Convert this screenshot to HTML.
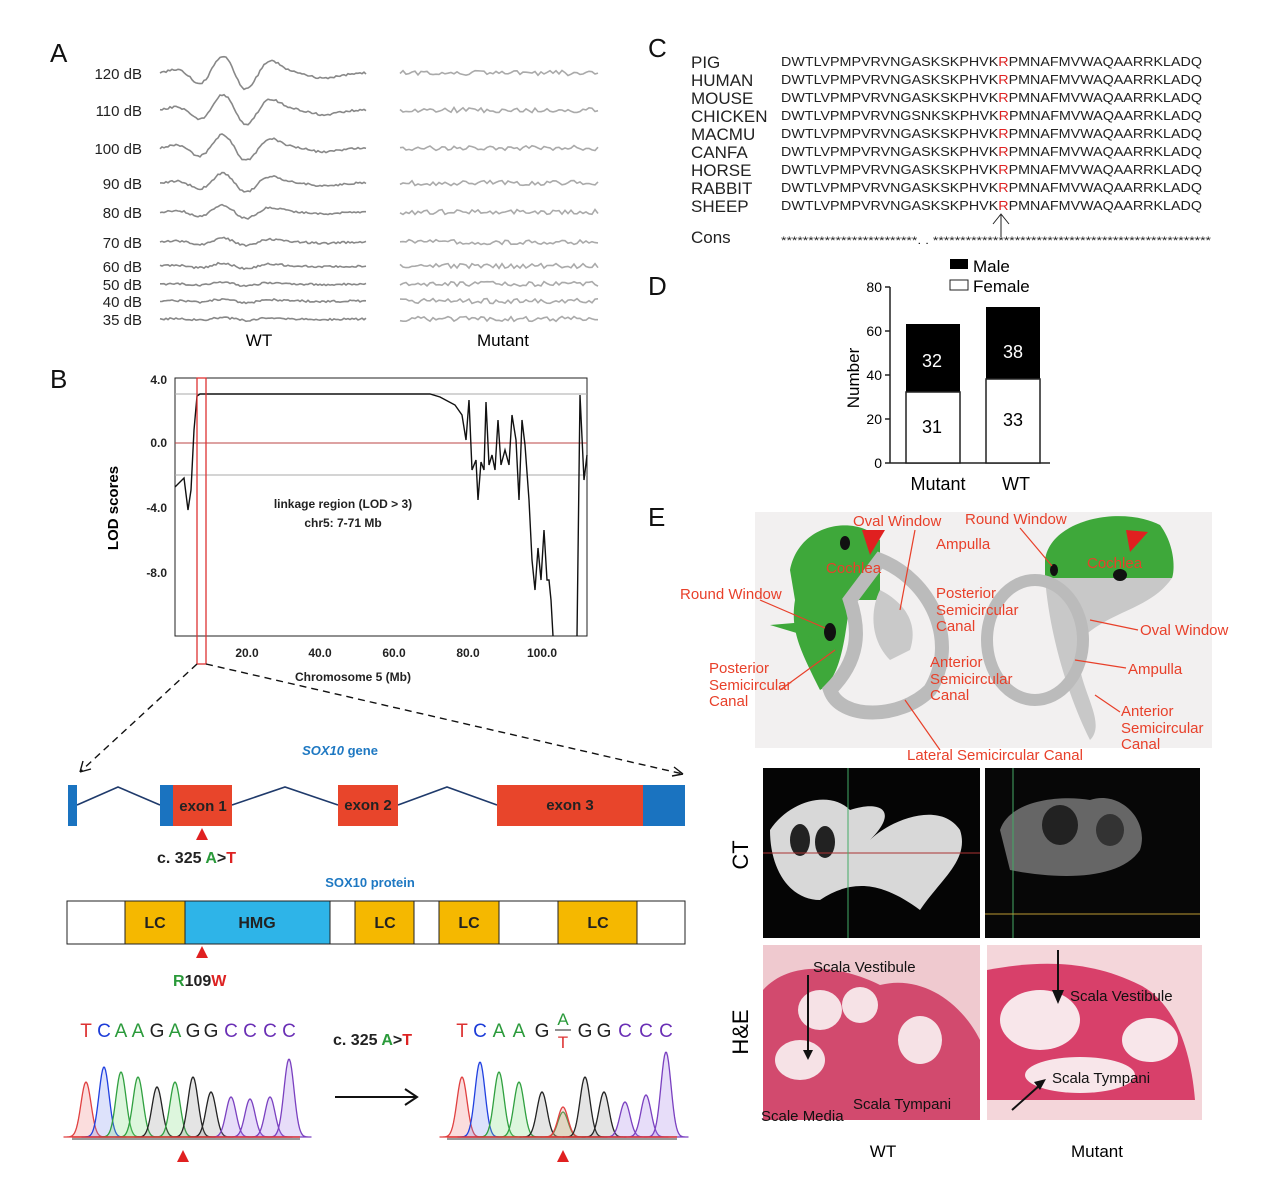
<!DOCTYPE html>
<html><head><meta charset="utf-8"><style>
html,body{margin:0;padding:0;background:#fff}
svg{display:block;font-family:"Liberation Sans",Arial,sans-serif}
</style></head><body>
<svg id="s" width="1269" height="1202" viewBox="0 0 1269 1202" xmlns="http://www.w3.org/2000/svg">
<rect width="1269" height="1202" fill="#fff"/>
<g font-size="26" fill="#111">
<text x="50" y="62">A</text><text x="50" y="388">B</text><text x="648" y="57">C</text>
<text x="648" y="295">D</text><text x="648" y="526">E</text></g>
<g font-size="15" fill="#222" text-anchor="end">
<text x="142" y="79">120 dB</text><text x="142" y="116">110 dB</text><text x="142" y="154">100 dB</text>
<text x="142" y="189">90 dB</text><text x="142" y="218">80 dB</text><text x="142" y="248">70 dB</text>
<text x="142" y="272">60 dB</text><text x="142" y="290">50 dB</text><text x="142" y="307">40 dB</text>
<text x="142" y="325">35 dB</text></g>
<text x="259" y="346" font-size="17" text-anchor="middle">WT</text>
<text x="503" y="346" font-size="17" text-anchor="middle">Mutant</text>
<g id="waves" fill="none" stroke="#888" stroke-width="1.6"></g>

<rect x="175" y="378" width="412" height="258" fill="none" stroke="#222" stroke-width="1"/>
<line x1="175" y1="394" x2="587" y2="394" stroke="#aaa"/>
<line x1="175" y1="475" x2="587" y2="475" stroke="#aaa"/>
<line x1="175" y1="443" x2="587" y2="443" stroke="#b44" stroke-width="1"/>
<g font-size="12" font-weight="bold" fill="#222" text-anchor="end">
<text x="167" y="384">4.0</text><text x="167" y="447">0.0</text><text x="167" y="512">-4.0</text><text x="167" y="577">-8.0</text></g>
<g font-size="12" font-weight="bold" fill="#222" text-anchor="middle">
<text x="247" y="657">20.0</text><text x="320" y="657">40.0</text><text x="394" y="657">60.0</text><text x="468" y="657">80.0</text><text x="542" y="657">100.0</text>
<text x="353" y="681">Chromosome 5 (Mb)</text>
<text x="343" y="508">linkage region (LOD &gt; 3)</text><text x="343" y="527">chr5: 7-71 Mb</text></g>
<text transform="translate(118,508) rotate(-90)" font-size="15" font-weight="bold" text-anchor="middle">LOD  scores</text>
<path d="M175 487 L180 482 L184 478 L188 510 L191 490 L194 430 L197 396 L200 394 L430 394 L440 397 L455 405 L462 415 L466 440 L469 400 L472 470 L476 460 L478 500 L481 462 L484 470 L486 402 L489 465 L492 455 L495 470 L498 420 L501 465 L505 450 L509 465 L512 415 L516 440 L519 500 L522 420 L525 445 L529 500 L532 560 L535 590 L538 548 L541 580 L544 530 L547 580 L549 580 L551 600 L553 636 M577 636 L580 395 L584 480 L587 455" fill="none" stroke="#111" stroke-width="1.4"/>
<rect x="197" y="378" width="9" height="286" fill="none" stroke="#d33" stroke-width="1.3"/>
<line x1="197" y1="664" x2="80" y2="772" stroke="#111" stroke-width="1.4" stroke-dasharray="7,5"/>
<path d="M80 772 l3 -11 M80 772 l11 -3" stroke="#111" stroke-width="1.4" fill="none"/>
<line x1="206" y1="664" x2="683" y2="774" stroke="#111" stroke-width="1.4" stroke-dasharray="7,5"/>
<path d="M683 774 l-9 -7 M683 774 l-11 2" stroke="#111" stroke-width="1.4" fill="none"/>

<text x="340" y="755" font-size="13" font-weight="bold" font-style="italic" fill="#1e78c2" text-anchor="middle">SOX10 <tspan font-style="normal">gene</tspan></text>
<path d="M77 805 L118 787 L160 805 M232 805 L285 787 L338 805 M398 805 L447 787 L497 805" stroke="#1f3a6b" stroke-width="1.6" fill="none"/>
<rect x="68" y="785" width="9" height="41" fill="#1a73c0"/>
<rect x="160" y="785" width="13" height="41" fill="#1a73c0"/>
<rect x="173" y="785" width="59" height="41" fill="#e8452b"/>
<rect x="338" y="785" width="60" height="41" fill="#e8452b"/>
<rect x="497" y="785" width="146" height="41" fill="#e8452b"/>
<rect x="643" y="785" width="42" height="41" fill="#1a73c0"/>
<g font-size="15" font-weight="bold" fill="#222" text-anchor="middle">
<text x="203" y="811">exon 1</text><text x="368" y="810">exon 2</text><text x="570" y="810">exon 3</text></g>
<polygon points="202,828 196,840 208,840" fill="#e02020"/>
<text x="157" y="863" font-size="16" font-weight="bold" fill="#222">c. 325 <tspan fill="#2a9a3a">A</tspan>&gt;<tspan fill="#d22">T</tspan></text>
<text x="370" y="887" font-size="13" font-weight="bold" fill="#1e78c2" text-anchor="middle">SOX10 protein</text>
<rect x="67" y="901" width="618" height="43" fill="#fff" stroke="#222"/>
<g stroke="#222"><rect x="125" y="901" width="60" height="43" fill="#f5b800"/>
<rect x="185" y="901" width="145" height="43" fill="#2eb4e8"/>
<rect x="355" y="901" width="59" height="43" fill="#f5b800"/>
<rect x="439" y="901" width="60" height="43" fill="#f5b800"/>
<rect x="558" y="901" width="79" height="43" fill="#f5b800"/></g>
<g font-size="16" font-weight="bold" fill="#222" text-anchor="middle">
<text x="155" y="928">LC</text><text x="257" y="928">HMG</text><text x="385" y="928">LC</text><text x="469" y="928">LC</text><text x="598" y="928">LC</text></g>
<polygon points="202,946 196,958 208,958" fill="#e02020"/>
<text x="173" y="986" font-size="16" font-weight="bold" fill="#222"><tspan fill="#2a9a3a">R</tspan>109<tspan fill="#d22">W</tspan></text>

<text x="333" y="1045" font-size="16" font-weight="bold" fill="#222">c. 325 <tspan fill="#2a9a3a">A</tspan>&gt;<tspan fill="#d22">T</tspan></text>
<line x1="335" y1="1097" x2="416" y2="1097" stroke="#111" stroke-width="2"/>
<path d="M405 1089 L417 1097 L405 1105" fill="none" stroke="#111" stroke-width="2"/>
<g id="chrom"></g>
<line x1="72" y1="1139" x2="300" y2="1139" stroke="#333"/>
<line x1="447" y1="1139" x2="677" y2="1139" stroke="#333"/>
<line x1="72" y1="1137" x2="300" y2="1137" stroke="#d33" stroke-width="1.5"/>
<line x1="447" y1="1137" x2="677" y2="1137" stroke="#d33" stroke-width="1.5"/>
<polygon points="183,1150 177,1162 189,1162" fill="#e02020"/>
<polygon points="563,1150 557,1162 569,1162" fill="#e02020"/>

<g font-size="17" fill="#222">
<text x="691" y="68">PIG</text><text x="691" y="86">HUMAN</text><text x="691" y="104">MOUSE</text>
<text x="691" y="122">CHICKEN</text><text x="691" y="140">MACMU</text><text x="691" y="158">CANFA</text>
<text x="691" y="176">HORSE</text><text x="691" y="194">RABBIT</text><text x="691" y="212">SHEEP</text>
<text x="691" y="243">Cons</text></g>
<g font-size="13" fill="#222">
<text x="781" y="66" textLength="421" lengthAdjust="spacingAndGlyphs">DWTLVPMPVRVNGASKSKPHVK<tspan fill="#d22">R</tspan>PMNAFMVWAQAARRKLADQ</text>
<text x="781" y="84" textLength="421" lengthAdjust="spacingAndGlyphs">DWTLVPMPVRVNGASKSKPHVK<tspan fill="#d22">R</tspan>PMNAFMVWAQAARRKLADQ</text>
<text x="781" y="102" textLength="421" lengthAdjust="spacingAndGlyphs">DWTLVPMPVRVNGASKSKPHVK<tspan fill="#d22">R</tspan>PMNAFMVWAQAARRKLADQ</text>
<text x="781" y="120" textLength="421" lengthAdjust="spacingAndGlyphs">DWTLVPMPVRVNGSNKSKPHVK<tspan fill="#d22">R</tspan>PMNAFMVWAQAARRKLADQ</text>
<text x="781" y="138" textLength="421" lengthAdjust="spacingAndGlyphs">DWTLVPMPVRVNGASKSKPHVK<tspan fill="#d22">R</tspan>PMNAFMVWAQAARRKLADQ</text>
<text x="781" y="156" textLength="421" lengthAdjust="spacingAndGlyphs">DWTLVPMPVRVNGASKSKPHVK<tspan fill="#d22">R</tspan>PMNAFMVWAQAARRKLADQ</text>
<text x="781" y="174" textLength="421" lengthAdjust="spacingAndGlyphs">DWTLVPMPVRVNGASKSKPHVK<tspan fill="#d22">R</tspan>PMNAFMVWAQAARRKLADQ</text>
<text x="781" y="192" textLength="421" lengthAdjust="spacingAndGlyphs">DWTLVPMPVRVNGASKSKPHVK<tspan fill="#d22">R</tspan>PMNAFMVWAQAARRKLADQ</text>
<text x="781" y="210" textLength="421" lengthAdjust="spacingAndGlyphs">DWTLVPMPVRVNGASKSKPHVK<tspan fill="#d22">R</tspan>PMNAFMVWAQAARRKLADQ</text>
<text x="781" y="244" font-size="11" textLength="430" lengthAdjust="spacingAndGlyphs">*************************. . ***************************************************</text></g>
<line x1="1001" y1="237" x2="1001" y2="215" stroke="#222"/>
<path d="M993 224 L1001 214 L1009 224" fill="none" stroke="#222"/>

<rect x="950" y="259" width="18" height="10" fill="#000"/>
<rect x="950" y="280" width="18" height="10" fill="#fff" stroke="#222"/>
<text x="973" y="272" font-size="17">Male</text><text x="973" y="292" font-size="17">Female</text>
<line x1="890" y1="287" x2="890" y2="463" stroke="#222" stroke-width="1.5"/>
<line x1="890" y1="463" x2="1050" y2="463" stroke="#222" stroke-width="1.5"/>
<g stroke="#222" stroke-width="1.5"><line x1="885" y1="287" x2="890" y2="287"/><line x1="885" y1="331" x2="890" y2="331"/><line x1="885" y1="375" x2="890" y2="375"/><line x1="885" y1="419" x2="890" y2="419"/><line x1="885" y1="463" x2="890" y2="463"/></g>
<g font-size="14" text-anchor="end"><text x="882" y="292">80</text><text x="882" y="336">60</text><text x="882" y="380">40</text><text x="882" y="424">20</text><text x="882" y="468">0</text></g>
<text transform="translate(859,378) rotate(-90)" font-size="17" text-anchor="middle">Number</text>
<rect x="906" y="324" width="54" height="68" fill="#000"/><rect x="906" y="392" width="54" height="71" fill="#fff" stroke="#222" stroke-width="1.5"/>
<rect x="986" y="307" width="54" height="72" fill="#000"/><rect x="986" y="379" width="54" height="84" fill="#fff" stroke="#222" stroke-width="1.5"/>
<g font-size="18" text-anchor="middle"><text x="932" y="367" fill="#fff">32</text><text x="932" y="433">31</text>
<text x="1013" y="358" fill="#fff">38</text><text x="1013" y="426">33</text>
<text x="938" y="490">Mutant</text><text x="1016" y="490">WT</text></g>

<rect x="755" y="512" width="457" height="236" fill="#f2f0f0"/>
<path d="M790 570 C800 520 860 515 880 540 L880 600 L850 600 C845 640 840 680 820 690 C800 650 790 630 795 600 Z" fill="#3ea83a"/>
<path d="M770 625 L830 620 L820 640 Z" fill="#3ea83a"/>
<path d="M850 600 L880 560 C930 580 960 640 930 690 C900 720 840 720 830 690 C860 660 860 630 850 600 Z" fill="none" stroke="#bbb" stroke-width="14"/>
<path d="M880 590 C900 600 920 620 910 650 L890 660 C870 640 870 610 880 590Z" fill="#c9c9c9"/>
<path d="M1045 560 C1050 520 1120 505 1160 525 C1175 545 1175 570 1172 578 L1045 578 Z" fill="#3ea83a"/>
<path d="M1045 578 L1172 578 C1150 610 1110 610 1080 640 C1070 680 1110 720 1090 740 C1070 700 1050 640 1045 578Z" fill="#c8c8c8"/>
<ellipse cx="1035" cy="640" rx="48" ry="60" fill="none" stroke="#bbb" stroke-width="12"/>
<ellipse cx="845" cy="543" rx="5" ry="7" fill="#111"/><ellipse cx="830" cy="632" rx="6" ry="9" fill="#111"/>
<ellipse cx="1120" cy="575" rx="7" ry="6" fill="#111"/><ellipse cx="1054" cy="570" rx="4" ry="6" fill="#111"/>
<polygon points="870,555 885,530 862,530" fill="#e02020"/><polygon points="1130,552 1148,532 1126,530" fill="#e02020"/>
<g stroke="#e8402a" stroke-width="1.2">
<line x1="760" y1="600" x2="825" y2="628"/><line x1="915" y1="530" x2="900" y2="610"/><line x1="1020" y1="528" x2="1052" y2="566"/>
<line x1="1138" y1="630" x2="1090" y2="620"/><line x1="1126" y1="668" x2="1075" y2="660"/><line x1="1120" y1="712" x2="1095" y2="695"/>
<line x1="780" y1="690" x2="835" y2="650"/><line x1="940" y1="750" x2="905" y2="700"/></g>
<g font-size="15" fill="#e8402a">
<text x="853" y="526">Oval  Window</text><text x="965" y="524">Round Window</text><text x="936" y="549">Ampulla</text>
<text x="826" y="573">Cochlea</text><text x="1087" y="568">Cochlea</text>
<text x="680" y="599">Round Window</text><text x="936" y="598">Posterior</text><text x="936" y="615">Semicircular</text><text x="936" y="631">Canal</text>
<text x="1140" y="635">Oval  Window</text><text x="709" y="673">Posterior</text><text x="709" y="690">Semicircular</text><text x="709" y="706">Canal</text>
<text x="930" y="667">Anterior</text><text x="930" y="684">Semicircular</text><text x="930" y="700">Canal</text>
<text x="1128" y="674">Ampulla</text><text x="1121" y="716">Anterior</text><text x="1121" y="733">Semicircular</text><text x="1121" y="749">Canal</text>
<text x="907" y="760">Lateral Semicircular Canal</text></g>
<rect x="763" y="768" width="217" height="170" fill="#050505"/>
<rect x="985" y="768" width="215" height="170" fill="#070707"/>
<path d="M770 830 C790 800 830 790 850 810 C880 800 900 810 870 840 C890 820 940 800 960 830 C970 860 940 880 920 910 C880 880 850 880 820 900 C790 900 770 870 770 830Z" fill="#d8d8d8"/>
<ellipse cx="800" cy="840" rx="10" ry="16" fill="#222"/><ellipse cx="825" cy="842" rx="10" ry="16" fill="#222"/>
<path d="M1000 830 C1010 800 1060 795 1090 800 C1120 790 1150 820 1140 850 C1120 880 1060 880 1010 870 Z" fill="#666"/>
<ellipse cx="1060" cy="825" rx="18" ry="20" fill="#222"/><ellipse cx="1110" cy="830" rx="14" ry="16" fill="#333"/>
<line x1="763" y1="853" x2="980" y2="853" stroke="#a33"/><line x1="848" y1="768" x2="848" y2="938" stroke="#4a6"/>
<line x1="1013" y1="768" x2="1013" y2="938" stroke="#4a6"/><line x1="985" y1="914" x2="1200" y2="914" stroke="#b93"/>
<rect x="763" y="945" width="217" height="175" fill="#efc9cf"/>
<rect x="987" y="945" width="215" height="175" fill="#f4d6da"/>
<path d="M763 990 C790 960 840 965 880 985 C920 975 960 1000 980 1040 L980 1120 L763 1120 Z" fill="#d24a6e"/>
<path d="M987 970 C1040 960 1090 960 1140 985 C1170 1000 1190 1040 1195 1100 L987 1100 Z" fill="#d8406a"/>
<ellipse cx="820" cy="1010" rx="22" ry="20" fill="#f6e2e6"/><ellipse cx="860" cy="1005" rx="18" ry="18" fill="#f6e2e6"/>
<ellipse cx="800" cy="1060" rx="25" ry="20" fill="#f6e2e6"/><ellipse cx="920" cy="1040" rx="22" ry="24" fill="#f6e2e6"/>
<ellipse cx="1040" cy="1020" rx="40" ry="30" fill="#f8e6ea"/><ellipse cx="1080" cy="1075" rx="55" ry="18" fill="#f8e6ea"/>
<ellipse cx="1150" cy="1040" rx="28" ry="22" fill="#f8e6ea"/>
<g font-size="15" fill="#111">
<text x="813" y="972">Scala Vestibule</text><text x="853" y="1109">Scala Tympani</text><text x="761" y="1121">Scale Media</text>
<text x="1070" y="1001">Scala Vestibule</text><text x="1052" y="1083">Scala Tympani</text></g>
<path d="M808 975 L808 1055" stroke="#111" stroke-width="2"/><polygon points="803,1050 813,1050 808,1060" fill="#111"/>
<path d="M1058 950 L1058 995" stroke="#111" stroke-width="2"/><polygon points="1052,990 1064,990 1058,1004" fill="#111"/>
<path d="M1012 1110 L1040 1085" stroke="#111" stroke-width="2"/><polygon points="1046,1079 1034,1082 1040,1090" fill="#111"/>
<text transform="translate(748,855) rotate(-90)" font-size="22" text-anchor="middle">CT</text>
<text transform="translate(748,1032) rotate(-90)" font-size="22" text-anchor="middle">H&amp;E</text>
<text x="883" y="1157" font-size="17" text-anchor="middle">WT</text>
<text x="1097" y="1157" font-size="17" text-anchor="middle">Mutant</text>
<g font-size="19" text-anchor="middle">
<text x="86" y="1037" fill="#d33">T</text><text x="104" y="1037" fill="#1c3cd8">C</text><text x="121" y="1037" fill="#2a9a3a">A</text><text x="138" y="1037" fill="#2a9a3a">A</text><text x="157" y="1037" fill="#222">G</text><text x="175" y="1037" fill="#2a9a3a">A</text><text x="193" y="1037" fill="#222">G</text><text x="211" y="1037" fill="#222">G</text><text x="231" y="1037" fill="#6a2fb5">C</text><text x="250" y="1037" fill="#6a2fb5">C</text><text x="289" y="1037" fill="#6a2fb5">C</text><text x="270" y="1037" fill="#6a2fb5">C</text>
<text x="462" y="1037" fill="#d33">T</text><text x="480" y="1037" fill="#1c3cd8">C</text><text x="499" y="1037" fill="#2a9a3a">A</text><text x="519" y="1037" fill="#2a9a3a">A</text><text x="542" y="1037" fill="#222">G</text><text x="563" y="1025" fill="#2a9a3a" font-size="17">A</text><text x="563" y="1048" fill="#d33" font-size="17">T</text><text x="585" y="1037" fill="#222">G</text><text x="604" y="1037" fill="#222">G</text><text x="625" y="1037" fill="#6a2fb5">C</text><text x="646" y="1037" fill="#6a2fb5">C</text><text x="666" y="1037" fill="#6a2fb5">C</text></g>
<line x1="555" y1="1030" x2="571" y2="1030" stroke="#222"/>
</svg>
<script>
(function(){
var NS="http://www.w3.org/2000/svg";
var g=document.getElementById("waves");
function rnd(i){var x=Math.sin(i*12.9898+78.233)*43758.5453;return x-Math.floor(x);}
var ys=[73,110,148,183,212,242,266,284,301,319];
var amps=[18,16,14,10,7,4,3,2,2,1.5];
ys.forEach(function(y,k){
 var d="",x;
 for(x=160;x<=366;x+=2){var t=(x-160)/206;var a=amps[k];
  var v=-a*Math.sin(t*26)*Math.exp(-Math.pow((t-0.35)/0.22,2))+ (a*0.6)*Math.sin(t*9)*Math.exp(-Math.pow((t-0.7)/0.15,2))+ (rnd(x+k*300)-0.5)*2;
  d+=(x==160?"M":"L")+x+" "+(y+v).toFixed(1);}
 var p=document.createElementNS(NS,"path");p.setAttribute("d",d);g.appendChild(p);
 d="";
 for(x=400;x<=600;x+=3){d+=(x==400?"M":"L")+x+" "+(y+(rnd(x*3+k*77)-0.5)*5).toFixed(1);}
 p=document.createElementNS(NS,"path");p.setAttribute("d",d);p.setAttribute("stroke","#aaa");g.appendChild(p);
});
var c=document.getElementById("chrom");
var cols={T:"#e04040",C:"#2040e0",A:"#30a040",G:"#222",P:"#7a40c0"};
var fills={T:"rgba(240,120,120,.25)",C:"rgba(120,140,240,.25)",A:"rgba(120,220,120,.25)",G:"rgba(120,120,120,.2)",P:"rgba(160,120,230,.25)"};
function peaks(list){list.forEach(function(q){var x0=q[0],h=q[1],b=q[2],w=9;
 var d="M"+(x0-2.5*w)+" 1137";for(var x=x0-2.5*w;x<=x0+2.5*w;x+=1){d+="L"+x+" "+(1137-h*Math.exp(-Math.pow((x-x0)/w,2)*1.6)).toFixed(1);}
 var p=document.createElementNS(NS,"path");p.setAttribute("d",d+"Z");p.setAttribute("fill",fills[b]);p.setAttribute("stroke",cols[b]);p.setAttribute("stroke-width","1.3");c.appendChild(p);});}
peaks([[86,55,"T"],[104,70,"C"],[121,65,"A"],[138,60,"A"],[157,50,"G"],[175,55,"A"],[193,60,"G"],[211,45,"G"],[231,40,"P"],[250,38,"P"],[270,40,"P"],[289,78,"P"]]);
peaks([[462,60,"T"],[480,75,"C"],[499,65,"A"],[519,55,"A"],[542,45,"G"],[563,25,"A"],[563,30,"T"],[585,60,"G"],[604,45,"G"],[625,35,"P"],[646,42,"P"],[666,85,"P"]]);
})();
</script>
</body></html>
